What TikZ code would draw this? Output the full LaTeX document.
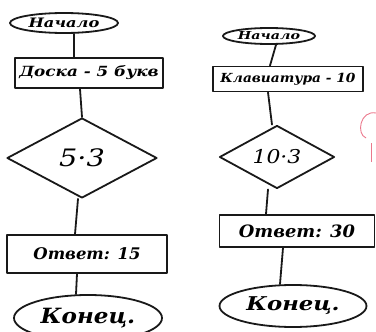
\documentclass[tikz,border=0pt]{standalone}
\usepackage{fontspec}
\setmainfont{DejaVu Serif}
\usetikzlibrary{shapes.geometric}
\newcommand{\widetxt}[2]{\scalebox{#1}[1]{#2}}
\tikzset{
  ink/.style={line width=1.8pt, draw=black!90, line join=round, line cap=round},
  blk/.style={ink, rectangle, inner sep=0pt, font=\bfseries\itshape\fontsize{#1}{#1}\selectfont},
  term/.style={ink, ellipse, inner sep=0pt, font=\bfseries\itshape\fontsize{#1}{#1}\selectfont},
  dec/.style={ink, diamond, inner sep=0pt, font=\itshape\fontsize{#1}{#1}\selectfont},
  link/.style={ink},
}
\begin{document}
\begin{tikzpicture}[x=1pt,y=-1pt]
\useasboundingbox (0,0) rectangle (376,332);
% left column
\node[term=13, minimum width=108, minimum height=20] (ls) at (64,23) {\widetxt{1.25}{Начало}};
\node[blk=14, minimum width=148, minimum height=30] (lb) at (89,73) {\widetxt{1.2}{Доска - 5 букв}};
\node[dec=24, minimum width=150, minimum height=80] (ld) at (82,158) {\widetxt{1.2}{5·3}};
\node[blk=16, minimum width=160, minimum height=38] (la) at (87,254) {\widetxt{1.03}{Ответ: 15}};
\node[term=21, minimum width=148, minimum height=46] (le) at (88,318) {\widetxt{1.1}{Конец.}};
\draw[link] ([xshift=10pt]ls.south) -- ([xshift=-15pt]lb.north);
\draw[link] ([xshift=-9pt]lb.south) -- (ld.north);
\draw[link] ([xshift=-4pt]ld.south) -- ([xshift=-12pt]la.north);
\draw[link] ([xshift=-10pt]la.south) -- ([xshift=-12pt]le.north);
% right column
\node[term=11, minimum width=92, minimum height=16] (rs) at (269,36) {\widetxt{1.3}{Начало}};
\node[blk=12.5, minimum width=150, minimum height=25] (rb) at (288,79) {\widetxt{1.1}{Клавиатура - 10}};
\node[dec=19, minimum width=115, minimum height=55] (rd) at (277,157) {\widetxt{1.15}{10·3}};
\node[blk=17, minimum width=155, minimum height=32] (ra) at (297,231) {\widetxt{1.05}{Ответ: 30}};
\node[term=19, minimum width=147, minimum height=42] (re) at (293,306) {\widetxt{1.2}{Конец.}};
\draw[link] ([xshift=7pt]rs.south) -- ([xshift=-18pt]rb.north);
\draw[link] ([xshift=-20pt]rb.south) -- ([xshift=-5pt]rd.north);
\draw[link] ([xshift=-9pt]rd.south) -- ([xshift=-31pt]ra.north);
\draw[link] ([xshift=-14pt]ra.south) -- ([xshift=-13pt]re.north);
% pink pen mark at the right edge
\definecolor{penpink}{RGB}{235,120,140}
\coordinate (p1) at (376,113);
\coordinate (p2) at (366,138);
\coordinate (p3) at (371,143);
\coordinate (p4) at (371,162);
\draw[penpink, line width=0.9pt] (p1) .. controls (360,110) and (356,134) .. (p2);
\draw[penpink, line width=0.9pt] (p3) -- (p4);
\end{tikzpicture}
\end{document}
